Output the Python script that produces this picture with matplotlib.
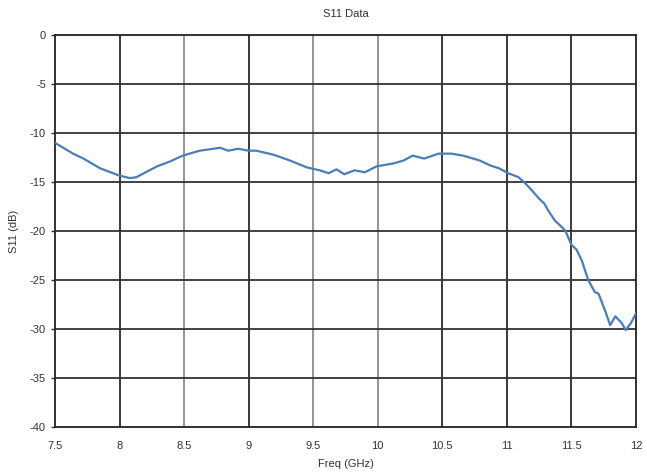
import matplotlib.pyplot as plt
import numpy as np

plt.rcParams['font.family'] = ['Liberation Sans', 'DejaVu Sans']

# values
freq = [7.50, 7.64, 7.72, 7.85, 7.99, 8.08, 8.13, 8.29, 8.39, 8.49, 8.62, 8.78, 8.84,
        8.92, 9.00, 9.06, 9.19, 9.32, 9.45, 9.55, 9.62, 9.68, 9.74, 9.82, 9.90, 9.99,
        10.12, 10.20, 10.27, 10.36, 10.47, 10.57, 10.66, 10.79, 10.87, 10.94, 11.01,
        11.09, 11.14, 11.19, 11.25, 11.29, 11.32, 11.37, 11.45, 11.50, 11.54, 11.58,
        11.63, 11.68, 11.71, 11.76, 11.80, 11.84, 11.89, 11.92, 11.96, 12.00]
s11 = [-11.0, -12.1, -12.6, -13.6, -14.3, -14.6, -14.5, -13.4, -12.9, -12.3, -11.8,
       -11.5, -11.8, -11.6, -11.8, -11.8, -12.2, -12.8, -13.5, -13.8, -14.1, -13.7,
       -14.2, -13.8, -14.0, -13.4, -13.1, -12.8, -12.3, -12.6, -12.1, -12.1, -12.3,
       -12.8, -13.3, -13.6, -14.1, -14.5, -15.1, -15.8, -16.7, -17.2, -17.9, -18.9,
       -19.9, -21.4, -21.9, -23.0, -25.0, -26.2, -26.4, -28.1, -29.6, -28.7, -29.4,
       -30.1, -29.4, -28.4]
xticks = [7.5, 8, 8.5, 9, 9.5, 10, 10.5, 11, 11.5, 12]
xtick_labels = ['7.5', '8', '8.5', '9', '9.5', '10', '10.5', '11', '11.5', '12']
yticks = [0, -5, -10, -15, -20, -25, -30, -35, -40]

fig = plt.figure(figsize=(6.47, 4.74), dpi=100)
ax = fig.add_axes([0.085, 0.099, 0.898, 0.827])

# grid lines, some darker than others like in the scan
dark = [8, 9, 10.5, 11, 11.5]
for x in xticks[1:-1]:
    c = '#2a2a2a' if x in dark else '#8c8c8c'
    ax.axvline(x, color=c, lw=1.3, zorder=1)
for y in yticks[1:-1]:
    ax.axhline(y, color='#333333', lw=1.3, zorder=1)

ax.plot(freq, s11, color='#4a7ebb', lw=1.6, zorder=3)

ax.set_xlim(7.5, 12)
ax.set_ylim(-40, 0)
ax.set_xticks(xticks)
ax.set_xticklabels(xtick_labels)
ax.set_yticks(yticks)
ax.set_yticklabels([str(v) for v in yticks])
ax.tick_params(axis='both', labelsize=8, colors='#333333', length=3, width=1)
ax.tick_params(axis='x', length=0, pad=10)
for s in ax.spines.values():
    s.set_color('#222222')
    s.set_linewidth(1.3)

ax.set_title('S11 Data', fontsize=8, color='#333333', pad=13)
ax.set_xlabel('Freq (GHz)', fontsize=8, color='#333333', labelpad=6)
ax.set_ylabel('S11 (dB)', fontsize=8, color='#333333', labelpad=8)

plt.savefig('out.png', dpi=100)
